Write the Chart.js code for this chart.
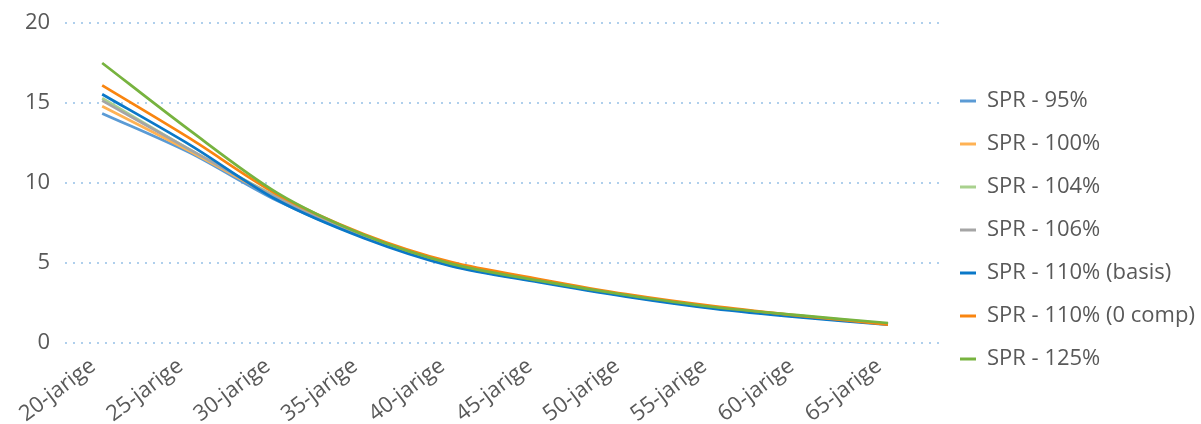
<!DOCTYPE html>
<html>
<head>
<meta charset="utf-8">
<script src="https://cdn.jsdelivr.net/npm/chart.js@4/dist/chart.umd.min.js"></script>
<style>
  html, body { margin: 0; padding: 0; background: #ffffff; }
  #wrap { width: 1201px; height: 424px; position: relative; }
</style>
</head>
<body>
<div id="wrap"><canvas id="chart"></canvas></div>
<script>
// age groups on the x axis
var ageLabels = ['20-jarige', '25-jarige', '30-jarige', '35-jarige', '40-jarige',
                 '45-jarige', '50-jarige', '55-jarige', '60-jarige', '65-jarige'];

// one array per scenario
var spr95      = [14.35, 11.9, 8.9, 6.6, 4.85, 3.85, 2.95, 2.2, 1.65, 1.2];
var spr100     = [14.8, 12.0, 9.05, 6.7, 4.85, 3.85, 2.95, 2.2, 1.65, 1.2];
var spr104     = [15.3, 12.1, 9.15, 6.7, 4.9, 3.9, 3.0, 2.25, 1.7, 1.2];
var spr106     = [15.15, 12.1, 9.1, 6.65, 4.85, 3.85, 2.95, 2.2, 1.65, 1.2];
var spr110     = [15.55, 12.4, 8.95, 6.55, 4.8, 3.8, 2.9, 2.15, 1.6, 1.15];
var spr110comp = [16.1, 12.8, 9.3, 6.8, 5.05, 4.0, 3.05, 2.3, 1.7, 1.15];
var spr125     = [17.5, 13.3, 9.4, 6.75, 4.95, 3.9, 3.0, 2.25, 1.72, 1.25];

var seriesNames  = ['SPR - 95%', 'SPR - 100%', 'SPR - 104%', 'SPR - 106%',
                    'SPR - 110% (basis)', 'SPR - 110% (0 comp)', 'SPR - 125%'];
var seriesValues = [spr95, spr100, spr104, spr106, spr110, spr110comp, spr125];
var seriesColors = ['#5B9BD5', '#FFB254', '#A9D18E', '#A5A5A5', '#0A78C8', '#F98510', '#77B33F'];

var yTicks = [0, 5, 10, 15, 20];

var FONT = "'Open Sans', sans-serif";
var TEXT = '#595959';

var datasets = seriesValues.map(function(vals, i) {
    return {
        label: seriesNames[i],
        data: vals.map(function(v, k) { return { x: k, y: v }; }),
        borderColor: seriesColors[i],
        backgroundColor: seriesColors[i],
        borderWidth: 2.75,
        pointRadius: 0,
        tension: 0.3,
        fill: false,
        // later series drawn on top, like the original
        order: seriesValues.length - i
    };
});

new Chart(document.getElementById('chart').getContext('2d'), {
    type: 'line',
    data: { datasets: datasets },
    options: {
        responsive: true,
        maintainAspectRatio: false,
        animation: false,
        layout: { padding: { left: 10, top: 23, right: 0, bottom: 0 } },
        plugins: {
            tooltip: { enabled: false },
            legend: {
                position: 'right',
                maxWidth: 262,
                // empty title only nudges the items down a bit
                title: { display: true, text: ' ', font: { size: 10 }, padding: 0.5 },
                labels: {
                    boxWidth: 16,
                    boxHeight: 3,
                    padding: 21,
                    color: TEXT,
                    font: { family: FONT, size: 22 },
                    sort: function(a, b) { return a.datasetIndex - b.datasetIndex; },
                    generateLabels: function(chart) {
                        var items = Chart.defaults.plugins.legend.labels.generateLabels(chart);
                        items.forEach(function(it) { it.lineWidth = 0; });
                        return items;
                    }
                }
            }
        },
        scales: {
            x: {
                type: 'linear',
                min: -0.424,
                max: 9.584,
                grid: { display: false },
                border: { display: false },
                afterFit: function(scale) {
                    // rotated labels may hang into the left margin
                    scale.paddingLeft = 0;
                    scale.height = 81;
                },
                ticks: {
                    stepSize: 1,
                    includeBounds: false,
                    autoSkip: false,
                    minRotation: 37,
                    maxRotation: 37,
                    padding: 2,
                    labelOffset: -9,
                    color: TEXT,
                    font: { family: FONT, size: 22 },
                    callback: function(v) { return ageLabels[v]; }
                }
            },
            y: {
                min: yTicks[0],
                max: yTicks[yTicks.length - 1],
                border: { display: false, dash: [2, 6] },
                grid: {
                    color: '#AFCFEC',
                    lineWidth: 2,
                    drawTicks: false
                },
                afterFit: function(scale) {
                    scale.paddingTop = 0;
                },
                ticks: {
                    stepSize: 5,
                    padding: 15,
                    color: TEXT,
                    font: { family: FONT, size: 22 }
                }
            }
        }
    }
});
</script>
</body>
</html>
